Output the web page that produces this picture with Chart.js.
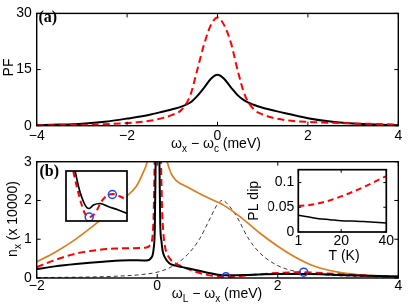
<!DOCTYPE html>
<html>
<head>
<meta charset="utf-8">
<script src="https://cdn.jsdelivr.net/npm/chart.js@4.4.0/dist/chart.umd.min.js"></script>
<style>
  html, body { margin: 0; padding: 0; background: #fff; }
  #wrap { position: relative; width: 411px; height: 308px; }
  #wrap canvas { position: absolute; left: 0; top: 0; }
</style>
</head>
<body>
<div id="wrap">
  <canvas id="pfChart" width="411" height="308"></canvas>
  <canvas id="nxChart" width="411" height="308"></canvas>
  <canvas id="zoomChart" width="411" height="308"></canvas>
  <canvas id="dipChart" width="411" height="308"></canvas>
</div>
<script>
// Panel (a): PF against detuning
const pfDetuning = [-4, -3.5, -3, -2.5, -2, -1.5, -1.2, -1, -0.8, -0.6, -0.45, -0.3, -0.15, 0,
                    0.15, 0.3, 0.45, 0.6, 0.8, 1, 1.2, 1.5, 2, 2.5, 3, 3.5, 4];
const pfSolid = [0.15, 0.3, 0.55, 1.05, 1.9, 2.9, 3.8, 4.4, 5.1, 6.2, 7.9, 10.1, 12.5, 13.6,
                 12.5, 10.2, 8.1, 6.7, 5.6, 4.8, 4.2, 3.3, 2.0, 1.1, 0.6, 0.3, 0.12];
const pfDashed = [0.1, 0.15, 0.25, 0.4, 0.7, 1.3, 2.1, 2.9, 4.2, 8.2, 14.8, 21.6, 26.8, 28.9,
                  26.8, 22.0, 14.6, 8.3, 4.4, 3.0, 2.2, 1.5, 1.0, 0.8, 0.6, 0.45, 0.3];
const pfXTicks = [-4, -2, 0, 2, 4];
const pfYTicks = [0, 15, 30];

// Panel (b): n_x against laser detuning
const orangeX = [-2, -1.7, -1.4, -1.1, -0.8, -0.55, -0.35, -0.24, -0.16, -0.08, 0, 0.08, 0.16,
                 0.23, 0.31, 0.5, 0.8, 1.1, 1.4, 1.7, 2.0, 2.3, 2.6, 3.0, 3.5, 4];
const orangeY = [0.42, 0.66, 0.95, 1.3, 1.68, 2.05, 2.36, 2.7, 3.05, 4, 6, 4, 3.05,
                 2.7, 2.52, 2.35, 2.1, 1.88, 1.55, 1.16, 0.82, 0.53, 0.31, 0.15, 0.06, 0.03];
const redX = [-2, -1.7, -1.35, -1.0, -0.7, -0.4, -0.2, -0.12, -0.08, -0.06, -0.04, 0.015, 0.06,
              0.08, 0.1, 0.13, 0.2, 0.3, 0.42, 0.6, 0.8, 1.0, 1.15, 1.5, 2.0, 2.4, 3.0, 3.5, 4];
const redY = [0.28, 0.46, 0.63, 0.72, 0.76, 0.77, 0.78, 0.84, 1.05, 1.6, 3.2, 6, 3.2,
              1.8, 1.2, 0.8, 0.52, 0.38, 0.29, 0.18, 0.09, 0.04, 0.03, 0.07, 0.13, 0.15, 0.1, 0.06, 0.03];
const blackX = [-2, -1.7, -1.35, -0.9, -0.46, -0.18, -0.1, -0.06, -0.04, -0.025, 0.005, 0.035,
                0.05, 0.07, 0.09, 0.12, 0.2, 0.3, 0.42, 0.6, 0.8, 1.1, 1.5, 2.0, 2.5, 3.0, 3.5, 4];
const blackY = [0.23, 0.3, 0.36, 0.42, 0.46, 0.45, 0.52, 0.75, 1.3, 3.2, 8, 3.2,
                1.4, 0.95, 0.7, 0.55, 0.38, 0.32, 0.28, 0.22, 0.15, 0.07, 0.08, 0.1, 0.1, 0.08, 0.06, 0.04];
const thinX = [-2, -1, -0.5, -0.25, 0, 0.25, 0.5, 0.7, 0.85, 1.0, 1.08, 1.2, 1.35, 1.5, 1.7,
               2.0, 2.3, 2.7, 3.2, 4];
const thinY = [0.01, 0.03, 0.06, 0.09, 0.15, 0.3, 0.6, 1.0, 1.45, 1.9, 2.0, 1.85, 1.5, 1.05, 0.65,
               0.32, 0.17, 0.09, 0.05, 0.02];
const circleX = [1.14, 2.43];
const circleY = [0.03, 0.15];
const nxXTicks = [-2, 0, 2, 4];
const nxYTicks = [0, 1, 2, 3];

// Left inset: zoom of the dip (relative units)
const zoomBlackX = [0.15, 0.22, 0.26, 0.3, 0.34, 0.38, 0.45, 0.56, 0.69, 0.86, 1.0];
const zoomBlackY = [0.99, 0.62, 0.47, 0.35, 0.27, 0.25, 0.32, 0.35, 0.29, 0.22, 0.15];
const zoomRedX = [0.12, 0.19, 0.25, 0.31, 0.38, 0.44, 0.5, 0.58, 0.69, 0.77, 0.89, 1.0];
const zoomRedY = [0.99, 0.62, 0.35, 0.15, 0.08, 0.11, 0.2, 0.39, 0.52, 0.54, 0.49, 0.41];
const zoomCircleX = [0.38, 0.76];
const zoomCircleY = [0.08, 0.53];

// Right inset: PL dip against temperature
const tempK = [1, 5, 10, 15, 20, 25, 30, 35, 40];
const dipDashed = [0.053, 0.054, 0.058, 0.064, 0.072, 0.081, 0.091, 0.102, 0.113];
const dipSolid = [0.034, 0.031, 0.027, 0.025, 0.023, 0.022, 0.021, 0.0195, 0.018];
const dipXTicks = [1, 20, 40];
const dipYTicks = [0, 0.05, 0.1];

const RED = '#ff0000';
const ORANGE = '#dc7d1e';
const BLUE = '#1f3dff';
const FONT = '"Liberation Sans", Arial, sans-serif';

Chart.defaults.color = '#000';
Chart.defaults.font.family = FONT;
Chart.defaults.font.size = 14;

function toPoints(xs, ys) {
    return xs.map((x, i) => ({x: x, y: ys[i]}));
}

function tickText(v) {
    return v < 0 ? '\u2212' + Math.abs(v) : String(v);
}

// Draws text with optional subscripts, centred (or left aligned) on x
function richText(ctx, item) {
    const size = item.size || 14;
    const subSize = Math.round(size * 0.72);
    const family = item.family || FONT;
    const weight = item.weight || 'normal';
    ctx.save();
    ctx.translate(item.x, item.y);
    if (item.rotate) ctx.rotate(-Math.PI / 2);
    ctx.fillStyle = '#000';
    ctx.textBaseline = 'alphabetic';
    ctx.textAlign = 'left';
    let total = 0;
    const widths = item.parts.map(p => {
        ctx.font = `${weight} ${p[1] ? subSize : size}px ${family}`;
        const w = ctx.measureText(p[0]).width;
        total += w;
        return w;
    });
    let cx = item.align === 'left' ? 0 : -total / 2;
    item.parts.forEach((p, i) => {
        ctx.font = `${weight} ${p[1] ? subSize : size}px ${family}`;
        ctx.fillText(p[0], cx, p[1] ? size * 0.3 : 0);
        cx += widths[i];
    });
    ctx.restore();
}

// Box round the plot area, inward ticks on all four sides, free text
const framePlugin = {
    id: 'frame',
    beforeDatasetsDraw(chart, args, opts) {
        if (!opts.fill) return;
        const a = chart.chartArea;
        chart.ctx.save();
        chart.ctx.fillStyle = '#fff';
        chart.ctx.fillRect(a.left, a.top, a.right - a.left, a.bottom - a.top);
        chart.ctx.restore();
    },
    afterDatasetsDraw(chart, args, opts) {
        const ctx = chart.ctx;
        const a = chart.chartArea;
        const len = opts.tickLength || 4;
        ctx.save();
        ctx.strokeStyle = '#000';
        ctx.lineWidth = 1;
        if (opts.xTicks) {
            opts.xTicks.forEach(v => {
                const px = chart.scales.x.getPixelForValue(v);
                ctx.beginPath();
                ctx.moveTo(px, a.bottom); ctx.lineTo(px, a.bottom - len);
                ctx.moveTo(px, a.top); ctx.lineTo(px, a.top + len);
                ctx.stroke();
            });
        }
        if (opts.yTicks) {
            opts.yTicks.forEach(v => {
                const py = chart.scales.y.getPixelForValue(v);
                ctx.beginPath();
                ctx.moveTo(a.left, py); ctx.lineTo(a.left + len, py);
                ctx.moveTo(a.right, py); ctx.lineTo(a.right - len, py);
                ctx.stroke();
            });
        }
        ctx.lineWidth = opts.borderWidth || 1.4;
        ctx.strokeRect(a.left, a.top, a.right - a.left, a.bottom - a.top);
        ctx.restore();
    },
    afterDraw(chart, args, opts) {
        (opts.texts || []).forEach(t => richText(chart.ctx, t));
    }
};

// Shared options; box is the wanted plot area in page pixels
function baseOptions(box, xr, yr, xTicks, yTicks, showAxes) {
    const yWidth = showAxes ? 30 : 0;
    const xHeight = showAxes ? 20 : 0;
    return {
        responsive: false,
        animation: false,
        events: [],
        layout: {
            autoPadding: false,
            padding: {
                left: box.left - yWidth,
                top: box.top,
                right: 411 - box.right,
                bottom: 308 - box.bottom - xHeight
            }
        },
        plugins: {legend: {display: false}, tooltip: {enabled: false}},
        elements: {point: {radius: 0}},
        scales: {
            x: {
                type: 'linear', min: xr[0], max: xr[1], display: showAxes,
                grid: {display: false, drawTicks: false}, border: {display: false},
                afterBuildTicks: s => { s.ticks = (xTicks || []).map(v => ({value: v})); },
                afterFit: s => { s.height = xHeight; },
                ticks: {padding: 2, maxRotation: 0, autoSkip: false, callback: tickText}
            },
            y: {
                type: 'linear', min: yr[0], max: yr[1], display: showAxes,
                grid: {display: false, drawTicks: false}, border: {display: false},
                afterBuildTicks: s => { s.ticks = (yTicks || []).map(v => ({value: v})); },
                afterFit: s => { s.width = yWidth; },
                ticks: {padding: 5, autoSkip: false, callback: tickText}
            }
        }
    };
}

function lineSet(points, color, width, dash) {
    return {
        data: points, borderColor: color, borderWidth: width, borderDash: dash || [],
        fill: false, cubicInterpolationMode: 'monotone', pointRadius: 0
    };
}

function circleSet(points) {
    return {
        data: points, showLine: false, pointRadius: 4, pointBorderWidth: 1.5,
        pointBorderColor: BLUE, pointBackgroundColor: 'rgba(0,0,0,0)'
    };
}

function createPfChart() {
    const options = baseOptions({left: 36.7, top: 9.3, right: 398.3, bottom: 125.7},
        [-4, 4], [0, 30], pfXTicks, pfYTicks, true);
    options.plugins.frame = {
        xTicks: pfXTicks, yTicks: pfYTicks,
        texts: [
            {parts: [['(a)']], x: 38.5, y: 22, align: 'left', weight: 'bold', size: 16, family: '"Liberation Serif", serif'},
            {parts: [['PF']], x: 13.3, y: 67.5, rotate: true},
            {parts: [['\u03c9'], ['x', true], [' \u2212 \u03c9'], ['c', true], [' (meV)']], x: 216, y: 148}
        ]
    };
    new Chart(document.getElementById('pfChart'), {
        type: 'line',
        data: {
            datasets: [
                lineSet(toPoints(pfDetuning, pfDashed), RED, 2, [7, 4]),
                lineSet(toPoints(pfDetuning, pfSolid), '#000', 2)
            ]
        },
        options: options,
        plugins: [framePlugin]
    });
}

function createNxChart() {
    const options = baseOptions({left: 36.7, top: 161.7, right: 398.3, bottom: 278},
        [-2, 4], [0, 3], nxXTicks, nxYTicks, true);
    options.scales.x.ticks.padding = 0;
    options.plugins.frame = {
        xTicks: nxXTicks, yTicks: nxYTicks,
        texts: [
            {parts: [['(b)']], x: 39.5, y: 175.5, align: 'left', weight: 'bold', size: 16, family: '"Liberation Serif", serif'},
            {parts: [['n'], ['x', true], [' (x 10000)']], x: 16.5, y: 219, rotate: true},
            {parts: [['\u03c9'], ['L', true], [' \u2212 \u03c9'], ['x', true], [' (meV)']], x: 217, y: 298}
        ]
    };
    new Chart(document.getElementById('nxChart'), {
        type: 'line',
        data: {
            datasets: [
                circleSet(toPoints(circleX, circleY)),
                lineSet(toPoints(blackX, blackY), '#000', 2),
                lineSet(toPoints(redX, redY), RED, 2, [7, 4]),
                lineSet(toPoints(orangeX, orangeY), ORANGE, 1.7),
                lineSet(toPoints(thinX, thinY), '#222', 0.9, [4, 3])
            ]
        },
        options: options,
        plugins: [framePlugin]
    });
}

function createZoomChart() {
    const options = baseOptions({left: 66, top: 171, right: 127, bottom: 221},
        [0, 1], [0, 1], [], [], false);
    options.plugins.frame = {fill: true, borderWidth: 1.7};
    new Chart(document.getElementById('zoomChart'), {
        type: 'line',
        data: {
            datasets: [
                circleSet(toPoints(zoomCircleX, zoomCircleY)),
                lineSet(toPoints(zoomBlackX, zoomBlackY), '#000', 1.7),
                lineSet(toPoints(zoomRedX, zoomRedY), RED, 2, [6, 4])
            ]
        },
        options: options,
        plugins: [framePlugin]
    });
}

function createDipChart() {
    const options = baseOptions({left: 298.3, top: 169.7, right: 386.3, bottom: 232},
        [1, 40], [0, 0.126], dipXTicks, dipYTicks, true);
    options.scales.x.ticks.padding = 1;
    options.scales.y.ticks.padding = 4;
    options.scales.y.ticks.callback = v => String(v);
    options.plugins.frame = {
        fill: true, borderWidth: 1.7, tickLength: 3,
        xTicks: dipXTicks, yTicks: dipYTicks,
        texts: [
            {parts: [['PL dip']], x: 258, y: 200.8, rotate: true},
            {parts: [['T (K)']], x: 344, y: 260}
        ]
    };
    new Chart(document.getElementById('dipChart'), {
        type: 'line',
        data: {
            datasets: [
                lineSet(toPoints(tempK, dipSolid), '#000', 1.5),
                lineSet(toPoints(tempK, dipDashed), RED, 2, [6, 4])
            ]
        },
        options: options,
        plugins: [framePlugin]
    });
}

createPfChart();
createNxChart();
createZoomChart();
createDipChart();
</script>
</body>
</html>
